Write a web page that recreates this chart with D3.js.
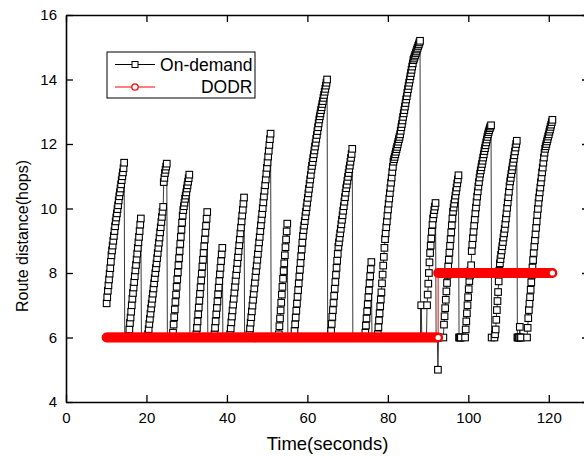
<!DOCTYPE html>
<html>
<head>
<meta charset="utf-8">
<script src="https://cdn.jsdelivr.net/npm/d3@7"></script>
<style>
  body { margin: 0; background: #fff; }
  svg { display: block; }
  text { font-family: "Liberation Sans", Arial, sans-serif; }
</style>
</head>
<body>
<svg id="chart" width="584" height="456"></svg>
<script>
// ---------------- data ----------------
const xTicks = [0, 20, 40, 60, 80, 100, 120];
const yTicks = [4, 6, 8, 10, 12, 14, 16];
const xLabel = "Time(seconds)";
const yLabel = "Route distance(hops)";
const seriesNames = ["On-demand", "DODR"];

// On-demand: route length sampled every SAMPLE_STEP seconds, one list per route burst
const SAMPLE_STEP = 0.15;
const onDemandStart = [10.1, 15.6, 20.4, 26.6, 32.4, 36.9, 40.8, 45.6, 52.9, 56.8, 65.9, 74.4, 77.5, 89.6, 93.8, 99.2, 106.5, 114.6];
const onDemandHops = [
  [7.06,7.25,7.45,7.62,7.8,7.98,8.15,8.35,8.55,8.7,8.85,9.0,9.15,9.3,9.45,9.6,9.72,9.85,9.98,10.1,10.25,10.38,10.5,10.62,10.75,10.88,11.0,11.12,11.25,11.42,6],
  [6.05,6.25,6.45,6.62,6.8,7.0,7.2,7.38,7.55,7.72,7.9,8.08,8.25,8.42,8.6,8.78,8.95,9.12,9.3,9.5,9.69,6],
  [6.1,6.26,6.42,6.58,6.74,6.9,7.05,7.2,7.36,7.52,7.68,7.84,8.0,8.15,8.3,8.46,8.62,8.78,8.94,9.1,9.26,9.42,9.58,9.74,9.9,10.05,10.82,10.95,11.1,11.2,11.3,11.39,6],
  [6.15,6.4,6.63,6.87,7.1,7.33,7.57,7.8,8.02,8.24,8.46,8.68,8.9,9.12,9.34,9.56,9.78,9.95,10.07,10.18,10.3,10.4,10.5,10.62,10.72,10.83,10.94,11.05,6],
  [6.1,6.3,6.5,6.72,6.93,7.14,7.35,7.56,7.77,7.98,8.2,8.41,8.62,8.83,9.04,9.25,9.46,9.68,9.89,6],
  [6.1,6.3,6.5,6.72,6.92,7.12,7.34,7.55,7.75,7.96,8.16,8.37,8.58,8.78,6],
  [6.1,6.28,6.47,6.65,6.84,7.02,7.2,7.39,7.57,7.76,7.94,8.12,8.31,8.49,8.68,8.86,9.04,9.23,9.41,9.6,9.78,9.96,10.15,10.34,6],
  [6.1,6.28,6.46,6.63,6.81,6.99,7.17,7.35,7.52,7.7,7.88,8.06,8.23,8.41,8.59,8.77,8.95,9.12,9.3,9.48,9.66,9.83,10.01,10.19,10.37,10.55,10.72,10.9,11.08,11.26,11.43,11.61,11.79,11.97,12.15,12.32,6],
  [6.1,6.35,6.59,6.84,7.08,7.33,7.57,7.82,8.06,8.3,8.55,8.8,9.04,9.29,9.53,6],
  [6.2,6.41,6.62,6.83,7.05,7.26,7.47,7.68,7.89,8.1,8.31,8.52,8.73,8.94,9.15,9.33,9.47,9.61,9.76,9.9,10.04,10.18,10.33,10.47,10.61,10.76,10.9,11.04,11.2,11.32,11.44,11.56,11.68,11.8,11.92,12.04,12.16,12.28,12.4,12.52,12.64,12.76,12.86,12.95,13.05,13.14,13.24,13.33,13.43,13.52,13.62,13.71,13.81,13.9,14.0,6],
  [6.2,6.42,6.64,6.85,7.07,7.29,7.51,7.72,7.94,8.16,8.38,8.59,8.81,8.95,9.09,9.23,9.37,9.51,9.65,9.79,9.93,10.07,10.21,10.35,10.49,10.63,10.74,10.86,10.98,11.1,11.22,11.33,11.45,11.57,11.69,11.85,6],
  [6.15,6.37,6.59,6.81,7.03,7.25,7.46,7.68,7.9,8.12,8.34,6],
  [6.1,6.32,6.53,6.75,6.97,7.18,7.4,7.68,7.95,8.23,8.5,8.78,9.05,9.23,9.42,9.6,9.78,9.97,10.15,10.31,10.48,10.64,10.8,10.96,11.13,11.29,11.45,11.53,11.6,11.68,11.76,11.84,11.91,11.99,12.07,12.15,12.22,12.3,12.41,12.52,12.62,12.73,12.84,12.95,13.05,13.16,13.27,13.38,13.48,13.59,13.7,13.8,13.9,14.0,14.1,14.2,14.3,14.4,14.5,14.6,14.65,14.71,14.76,14.82,14.87,14.93,14.98,15.04,15.09,15.15,15.2,6,7.0,6],
  [6,7.0,7.33,7.67,8.0,8.33,8.62,8.85,9.07,9.28,9.5,9.69,9.82,9.95,10.06,10.17,6,6,6,5.0,6],
  [6.0,6.4,6.66,6.91,7.17,7.43,7.69,7.94,8.2,8.41,8.63,8.84,9.05,9.26,9.48,9.69,9.9,10.03,10.15,10.28,10.4,10.53,10.65,10.78,10.9,11.03,6,6,6,6],
  [6.0,6.25,6.5,6.75,7.0,7.25,7.5,7.75,7.92,8.08,8.24,8.68,8.88,9.08,9.28,9.47,9.66,9.85,10.03,10.2,10.37,10.53,10.68,10.82,10.96,11.08,11.18,11.28,11.38,11.48,11.58,11.68,11.78,11.87,11.96,12.05,12.14,12.22,12.3,12.37,12.43,12.49,12.54,12.58,6],
  [6.0,6.1,6.25,6.55,6.85,7.13,7.41,7.74,8.07,8.3,8.43,8.56,8.7,8.83,8.96,9.1,9.23,9.37,9.52,9.69,9.85,10.02,10.19,10.35,10.52,10.69,10.84,10.95,11.07,11.19,11.3,11.42,11.54,11.65,11.77,11.89,12.0,12.1,6,6,6,6,6.33,6,6],
  [6.0,6.3,6.6,6.85,7.05,7.25,7.48,7.71,7.94,8.17,8.4,8.62,8.82,9.01,9.2,9.4,9.6,9.8,9.99,10.18,10.34,10.5,10.65,10.81,10.96,11.12,11.27,11.42,11.58,11.73,11.85,11.93,12.0,12.08,12.15,12.23,12.3,12.38,12.45,12.53,12.6,12.68,12.75]
];

// DODR: route length sampled every DODR_STEP seconds, two stable periods
const DODR_STEP = 0.4;
const dodrStart = [10.1, 92.5];
const dodrHops = [
  [6,6,6,6,6,6,6,6,6,6, 6,6,6,6,6,6,6,6,6,6, 6,6,6,6,6,6,6,6,6,6, 6,6,6,6,6,6,6,6,6,6,
   6,6,6,6,6,6,6,6,6,6, 6,6,6,6,6,6,6,6,6,6, 6,6,6,6,6,6,6,6,6,6, 6,6,6,6,6,6,6,6,6,6,
   6,6,6,6,6,6,6,6,6,6, 6,6,6,6,6,6,6,6,6,6, 6,6,6,6,6,6,6,6,6,6, 6,6,6,6,6,6,6,6,6,6,
   6,6,6,6,6,6,6,6,6,6, 6,6,6,6,6,6,6,6,6,6, 6,6,6,6,6,6,6,6,6,6, 6,6,6,6,6,6,6,6,6,6,
   6,6,6,6,6,6,6,6,6,6, 6,6,6,6,6,6,6,6,6,6, 6,6,6,6,6,6,6,6,6,6, 6,6,6,6,6,6,6,6,6,6,
   6,6,6,6,6,6,6],
  [8,8,8,8,8,8,8,8,8,8, 8,8,8,8,8,8,8,8,8,8, 8,8,8,8,8,8,8,8,8,8, 8,8,8,8,8,8,8,8,8,8,
   8,8,8,8,8,8,8,8,8,8, 8,8,8,8,8,8,8,8,8,8, 8,8,8,8,8,8,8,8,8,8, 8,8]
];

// ---------------- chart ----------------
const svg = d3.select("#chart");
const x = d3.scaleLinear().domain([0, 130]).range([66, 589]);
const y = d3.scaleLinear().domain([4, 16]).range([402, 15]);

function expand(starts, lists, step) {
  const out = [];
  lists.forEach((vals, b) => vals.forEach((v, i) => out.push({ t: starts[b] + i * step, v })));
  return out;
}
const onDemand = expand(onDemandStart, onDemandHops, SAMPLE_STEP);
const dodr = expand(dodrStart, dodrHops, DODR_STEP);

const line = d3.line().x(d => x(d.t)).y(d => y(d.v));
const plot = svg.append("g");
const BOX = 6.6;

// On-demand
plot.append("path").datum(onDemand).attr("d", line)
  .attr("fill", "none").attr("stroke", "#222").attr("stroke-width", 0.9);
plot.append("g").selectAll("rect").data(onDemand).join("rect")
  .attr("x", d => x(d.t) - BOX / 2).attr("y", d => y(d.v) - BOX / 2)
  .attr("width", BOX).attr("height", BOX)
  .attr("fill", "#fff").attr("stroke", "#000").attr("stroke-width", 1.1);

// DODR
plot.append("path").datum(dodr).attr("d", line)
  .attr("fill", "none").attr("stroke", "#ff0000").attr("stroke-width", 1);
plot.append("g").selectAll("circle").data(dodr).join("circle")
  .attr("cx", d => x(d.t)).attr("cy", d => y(d.v)).attr("r", 3.8)
  .attr("fill", "#fff").attr("stroke", "#ff0000").attr("stroke-width", 2.4);

// Axes
function styleAxis(g) {
  g.select(".domain").attr("stroke", "#000").attr("stroke-width", 1.6);
  g.selectAll(".tick line").attr("stroke", "#000").attr("stroke-width", 1.3);
  g.selectAll(".tick text").attr("fill", "#000")
    .style("font-family", '"Liberation Sans", Arial, sans-serif').style("font-size", "15px");
}
svg.append("g").attr("transform", "translate(0,402)")
  .call(d3.axisBottom(x).tickValues(xTicks).tickSizeInner(-7).tickSizeOuter(0).tickPadding(10))
  .call(styleAxis);
svg.append("g").attr("transform", "translate(66,0)")
  .call(d3.axisLeft(y).tickValues(yTicks).tickSizeInner(-7).tickSizeOuter(0).tickPadding(9))
  .call(styleAxis);
svg.append("g").attr("transform", "translate(0,15)")
  .call(d3.axisTop(x).tickValues(xTicks).tickSizeInner(-7).tickSizeOuter(0).tickFormat(""))
  .call(styleAxis);
svg.append("g").attr("transform", "translate(589,0)")
  .call(d3.axisRight(y).tickValues(yTicks).tickSizeInner(-7).tickSizeOuter(0).tickFormat(""))
  .call(styleAxis);

// Axis titles
svg.append("text").attr("x", 327.5).attr("y", 450).attr("text-anchor", "middle")
  .style("font-size", "18.5px").attr("fill", "#000").text(xLabel);
svg.append("text").attr("transform", "translate(28,236) rotate(-90)").attr("text-anchor", "middle")
  .style("font-size", "16px").attr("fill", "#000").text(yLabel);

// Legend
const lg = svg.append("g");
lg.append("rect").attr("x", 107).attr("y", 52).attr("width", 148).attr("height", 46)
  .attr("fill", "#fff").attr("stroke", "#000").attr("stroke-width", 1);
lg.append("line").attr("x1", 115).attr("x2", 155).attr("y1", 64.5).attr("y2", 64.5)
  .attr("stroke", "#000").attr("stroke-width", 1);
lg.append("rect").attr("x", 132).attr("y", 61.5).attr("width", 6).attr("height", 6)
  .attr("fill", "#fff").attr("stroke", "#000").attr("stroke-width", 1);
lg.append("text").attr("x", 252.5).attr("y", 71).attr("text-anchor", "end")
  .style("font-size", "17.5px").attr("fill", "#000").text(seriesNames[0]);
lg.append("line").attr("x1", 115).attr("x2", 155).attr("y1", 87).attr("y2", 87)
  .attr("stroke", "#ff0000").attr("stroke-width", 1);
lg.append("circle").attr("cx", 135).attr("cy", 87).attr("r", 3.2)
  .attr("fill", "#fff").attr("stroke", "#ff0000").attr("stroke-width", 1.3);
lg.append("text").attr("x", 252.5).attr("y", 93).attr("text-anchor", "end")
  .style("font-size", "17.5px").attr("fill", "#000").text(seriesNames[1]);
</script>
</body>
</html>
